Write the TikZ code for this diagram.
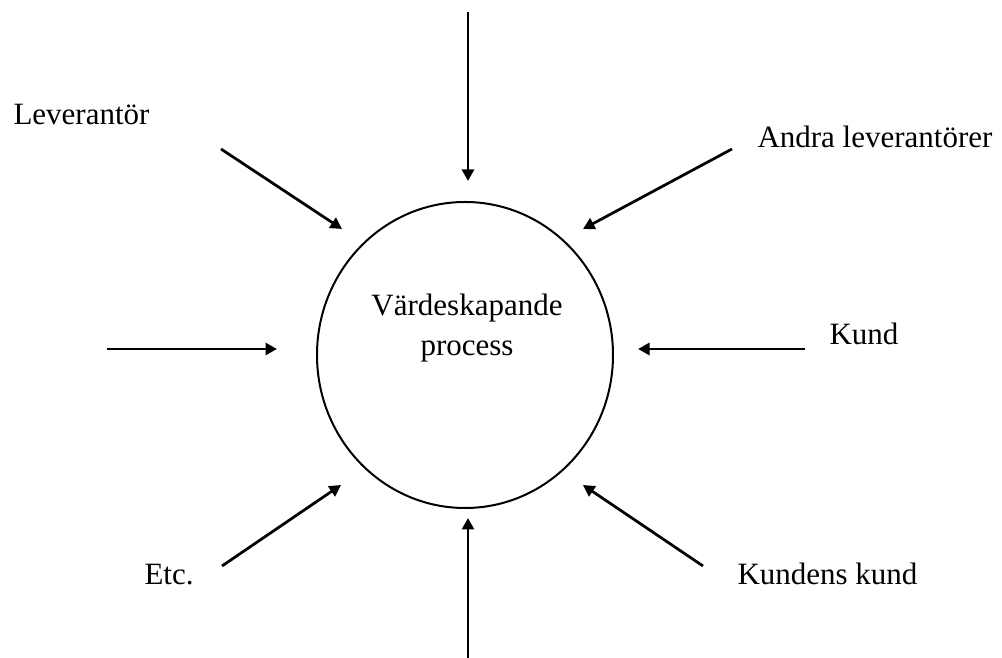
\documentclass[tikz,border=0pt]{standalone}
\usepackage{fontspec}
\setmainfont{Liberation Serif}
\usetikzlibrary{shapes.geometric,arrows.meta}
\tikzset{
  flow/.style={line width=1.1pt,-{Triangle[length=4.6pt,width=4.8pt]}},
  lbl/.style={anchor=base west,inner sep=0,font=\fontsize{12.4}{16}\selectfont},
}
\begin{document}
\begin{tikzpicture}[x=0.4pt,y=-0.4pt]
\useasboundingbox(0,0)rectangle(1002,658);
\node[draw,ellipse,line width=0.8pt,inner sep=0,minimum width=118.4pt,minimum height=122.4pt](proc)at(465,355){};
\node[align=center,inner sep=0,font=\fontsize{12.4}{16}\selectfont](txt)at(467,328){V\"ardeskapande\\process};
% labels
\node[lbl](lev)at(13,125){Leverant\"or};
\node[lbl](andra)at(757,148){Andra leverant\"orer};
\node[lbl](kund)at(829,345){Kund};
\node[lbl](etc)at(144,585){Etc.};
\node[lbl](kk)at(737,585){Kundens kund};
% arrow ends
\coordinate(T1)at(468,12);
\coordinate(H1)at(468,181);
\coordinate(T2)at(221,149);
\coordinate(H2)at(342,229);
\coordinate(T3)at(732,149);
\coordinate(H3)at(583,229);
\coordinate(T4)at(107,349);
\coordinate(H4)at(277,349);
\coordinate(T5)at(805,349);
\coordinate(H5)at(638,349);
\coordinate(T6)at(222,566);
\coordinate(H6)at(341,485);
\coordinate(T7)at(703,566);
\coordinate(H7)at(583,485);
\coordinate(T8)at(468,658);
\coordinate(H8)at(468,518);
\draw[flow](T1)--(H1);
\draw[flow](T2)--(H2);
\draw[flow](T3)--(H3);
\draw[flow](T4)--(H4);
\draw[flow](T5)--(H5);
\draw[flow](T6)--(H6);
\draw[flow](T7)--(H7);
\draw[flow](T8)--(H8);
\end{tikzpicture}
\end{document}
